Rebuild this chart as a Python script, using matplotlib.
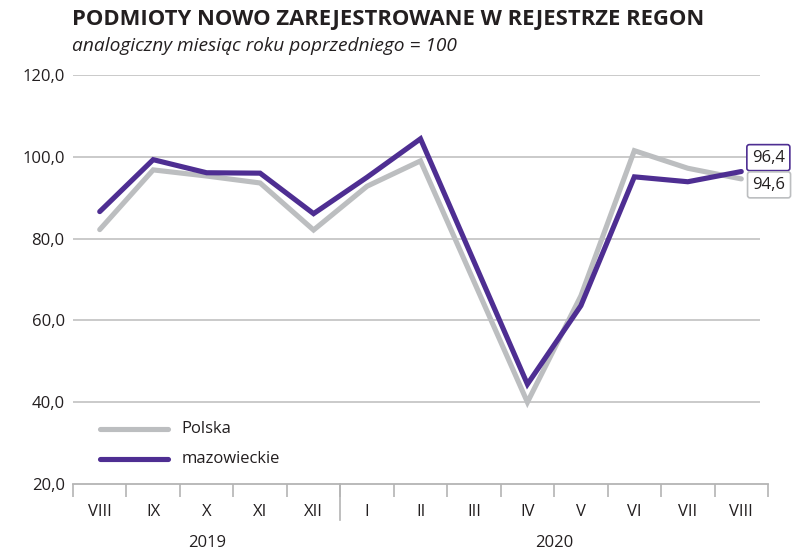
import matplotlib.pyplot as plt
from matplotlib.lines import Line2D

plt.rcParams['font.family'] = ['Open Sans', 'DejaVu Sans']

months = ['VIII', 'IX', 'X', 'XI', 'XII', 'I', 'II', 'III', 'IV', 'V', 'VI', 'VII', 'VIII']
years = ['2019', '2020']
polska = [82.2, 96.8, 95.3, 93.6, 82.1, 92.8, 99.0, 69.5, 40.0, 66.0, 101.5, 97.2, 94.6]
mazowieckie = [86.6, 99.3, 96.1, 96.0, 86.1, 95.0, 104.4, 74.4, 44.4, 63.6, 95.1, 93.9, 96.4]
yticks = [20, 40, 60, 80, 100, 120]

GRAY = '#bcbec0'
PURPLE = '#4e2e92'
TXT = '#231f20'
FS = 12

fig = plt.figure(figsize=(8.04, 5.53), dpi=100)
ax = fig.add_axes([73 / 804, 1 - 484 / 553, (768 - 73) / 804, (484 - 75) / 553])

x = list(range(len(months)))
# gridlines
for v in yticks[1:]:
    ax.plot([-0.5, 12.35], [v, v], color='#c6c6c6', lw=1.3, zorder=1, solid_capstyle='butt')

ax.plot(x, polska, color=GRAY, lw=3.7, zorder=3, solid_capstyle='round', solid_joinstyle='miter')
ax.plot(x, mazowieckie, color=PURPLE, lw=3.7, zorder=4, solid_capstyle='round', solid_joinstyle='miter')

ax.set_xlim(-0.5, 12.5)
ax.set_ylim(20, 120)
for s in ['top', 'right', 'left']:
    ax.spines[s].set_visible(False)
ax.spines['bottom'].set_color('#b4b4b4')
ax.spines['bottom'].set_linewidth(1.3)

ax.set_yticks(yticks)
ax.set_yticklabels([f'{v:.1f}'.replace('.', ',') for v in yticks], fontsize=FS, color=TXT)
ax.tick_params(axis='y', length=0, pad=6)

# month boundaries as ticks
ax.set_xticks([i + 0.5 for i in range(-1, 13)])
ax.set_xticklabels([])
ax.tick_params(axis='x', length=9, width=1.2, color='#b4b4b4')
for i, m in enumerate(months):
    ax.annotate(m, (i, 20), xytext=(0, -20), textcoords='offset points', ha='center', va='center',
                fontsize=FS, color=TXT, annotation_clip=False)
# year separator
sep = Line2D([4.5, 4.5], [20, 11.2], color='#b4b4b4', lw=1.2, transform=ax.transData, clip_on=False)
ax.add_line(sep)
ax.annotate(years[0], (2, 20), xytext=(0, -42.5), textcoords='offset points', ha='center', va='center',
            fontsize=FS, color=TXT, annotation_clip=False)
ax.annotate(years[1], (8.5, 20), xytext=(0, -42.5), textcoords='offset points', ha='center', va='center',
            fontsize=FS, color=TXT, annotation_clip=False)

# end labels
lab_m = f'{mazowieckie[-1]:.1f}'.replace('.', ',')
lab_p = f'{polska[-1]:.1f}'.replace('.', ',')
ax.annotate(lab_m, (12, mazowieckie[-1]), xytext=(19.5, 10.0),
            textcoords='offset points', ha='center', va='center', fontsize=FS, color=TXT,
            bbox=dict(boxstyle='round,pad=0.3,rounding_size=0.15', fc='white', ec=PURPLE, lw=1.2),
            annotation_clip=False, zorder=6)
ax.annotate(lab_p, (12, polska[-1]), xytext=(20.0, -4.3),
            textcoords='offset points', ha='center', va='center', fontsize=FS, color=TXT,
            bbox=dict(boxstyle='round,pad=0.3,rounding_size=0.15', fc='white', ec=GRAY, lw=1.2),
            annotation_clip=False, zorder=6)

# legend
ax.plot([0, 1.27], [33.5, 33.5], color=GRAY, lw=3.7, solid_capstyle='round')
ax.plot([0, 1.27], [26.2, 26.2], color=PURPLE, lw=3.7, solid_capstyle='round')
ax.text(1.53, 33.5, 'Polska', fontsize=FS, color=TXT, va='center')
ax.text(1.53, 26.2, 'mazowieckie', fontsize=FS, color=TXT, va='center')

fig.text(72 / 804, 1 - 19 / 553, 'PODMIOTY NOWO ZAREJESTROWANE W REJESTRZE REGON', fontsize=15.8,
         fontweight='bold', color=TXT, va='center')
fig.text(72 / 804, 1 - 46 / 553, 'analogiczny miesiąc roku poprzedniego = 100', fontsize=13.8,
         style='italic', color=TXT, va='center')

fig.savefig('out.png', dpi=100)
